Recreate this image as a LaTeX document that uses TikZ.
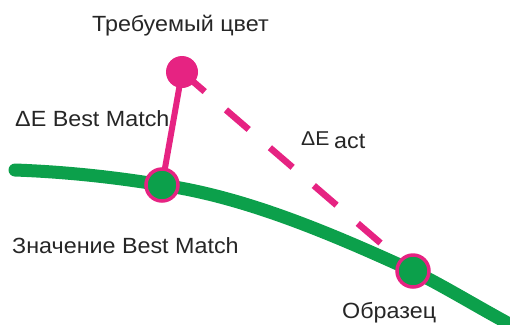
\documentclass[tikz,border=0pt]{standalone}
\usepackage{fontspec}
\setmainfont{Liberation Sans}[FakeStretch=1.06]
\definecolor{mag}{RGB}{230,35,130}
\definecolor{grn}{RGB}{12,160,75}
\begin{document}
\begin{tikzpicture}[x=1bp,y=-1bp,
  lbl/.style={anchor=base west,inner sep=0pt,font=\fontsize{22bp}{26bp}\selectfont,text=black!85},
  sample/.style={circle,fill=grn,draw=mag,line width=3.5bp,minimum size=32bp,inner sep=0pt},
  target/.style={circle,fill=mag,minimum size=32bp,inner sep=0pt},
  curve/.style={grn,line width=13bp,line cap=round},
  solidln/.style={mag,line width=6bp},
  dashln/.style={mag,line width=6.5bp,dash pattern=on 30bp off 28bp}]
\useasboundingbox (0,0) rectangle (510,324);
\clip (0,0) rectangle (510,324);
\coordinate (t) at (182,72);
\coordinate (b) at (162,185);
\coordinate (s) at (413,271);
\coordinate (cstart) at (15,170);
\coordinate (cend) at (540,340);
\draw[curve] (cstart) .. controls (70,172) and (120,178) .. (b)
  .. controls (245,197) and (330,233) .. (s)
  .. controls (450,289) and (490,315) .. (cend);
\draw[dashln] (t) -- (s);
\draw[solidln] (t) -- (b);
\node[target] (tn) at (t) {};
\node[sample] (bn) at (b) {};
\node[sample] (sn) at (s) {};
\node[lbl] (l1) at (92,31) {Требуемый цвет};
\node[lbl] (l2) at (15,126) {ΔE Best Match};
\node[lbl] (l3) at (12,253) {Значение Best Match};
\node[lbl] (l4) at (342,318) {Образец};
\node[lbl,font=\fontsize{20bp}{24bp}\selectfont] (l5) at (301,145) {ΔE};
\node[lbl] (l6) at (334,148) {act};
\end{tikzpicture}
\end{document}
